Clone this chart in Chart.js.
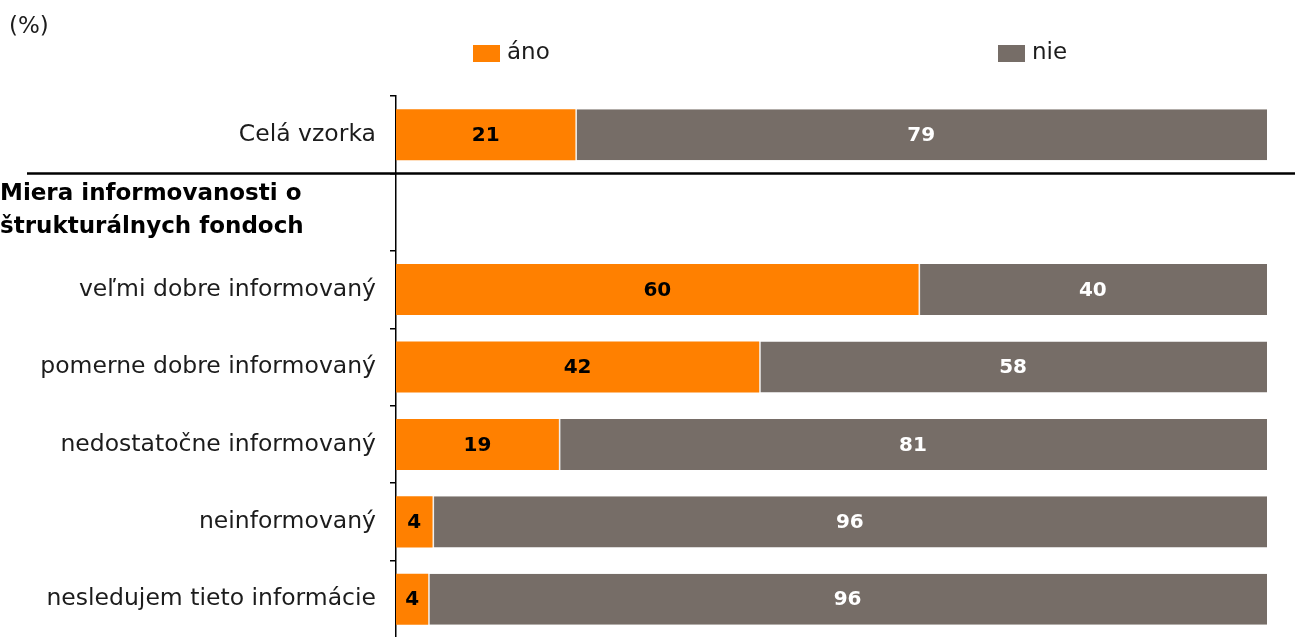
<!DOCTYPE html>
<html>
<head>
<meta charset="utf-8">
<script src="https://cdn.jsdelivr.net/npm/chart.js@4.4.1/dist/chart.umd.min.js"></script>
<style>
  html, body { margin: 0; padding: 0; background: #fff; overflow: hidden; }
  #wrap { width: 1295px; height: 640px; position: relative; }
</style>
</head>
<body>
<div id="wrap"><canvas id="c" width="1295" height="640"></canvas></div>
<script>
// ---- data ----
const categories = ['Celá vzorka', '', 'veľmi dobre informovaný', 'pomerne dobre informovaný', 'nedostatočne informovaný', 'neinformovaný', 'nesledujem tieto informácie'];
const groupHeaderIndex = 1;
const groupHeader = ['Miera informovanosti o', 'štrukturálnych fondoch'];
const seriesNames = ['áno', 'nie'];
const anoValues = [20.6, null, 60.0, 41.7, 18.7, 4.2, 3.7];
const nieValues = [79.4, null, 40.0, 58.3, 81.3, 95.8, 96.3];
const unitLabel = '(%)';

const COLORS = ['#FF8000', '#766D67'];
const LABEL_COLORS = ['#000000', '#FFFFFF'];
const FONT = 'DejaVu Sans';
const TEXT = '#1c1c1c';

const overlay = {
  id: 'overlay',
  afterDraw(chart) {
    const ctx = chart.ctx;
    const y = chart.scales.y;
    ctx.save();
    // unit label
    ctx.fillStyle = TEXT;
    ctx.font = '23px "' + FONT + '"';
    ctx.textAlign = 'left';
    ctx.textBaseline = 'middle';
    ctx.fillText(unitLabel, 9, 27);
    // legend
    const legendPos = [{bx: 473, tx: 507}, {bx: 998, tx: 1032}];
    chart.data.datasets.forEach((ds, i) => {
      ctx.fillStyle = ds.backgroundColor;
      ctx.fillRect(legendPos[i].bx, 45, 27, 17);
      ctx.fillStyle = TEXT;
      ctx.fillText(ds.label, legendPos[i].tx, 53);
    });
    // group header
    const hy = y.getPixelForValue(groupHeaderIndex);
    ctx.font = 'bold 23px "' + FONT + '"';
    ctx.fillStyle = '#000';
    ctx.fillText(groupHeader[0], 0, hy - 18);
    ctx.fillText(groupHeader[1], 0, hy + 15);
    // separator line
    const sy = (y.getPixelForValue(0) + y.getPixelForValue(1)) / 2;
    ctx.strokeStyle = '#000';
    ctx.lineWidth = 2.5;
    ctx.beginPath();
    ctx.moveTo(27, sy);
    ctx.lineTo(chart.width, sy);
    ctx.stroke();
    // data labels
    ctx.font = 'bold 20px "' + FONT + '"';
    ctx.textAlign = 'center';
    chart.data.datasets.forEach((ds, i) => {
      const meta = chart.getDatasetMeta(i);
      meta.data.forEach((el, j) => {
        const v = ds.data[j];
        if (v === null || v === undefined) return;
        ctx.fillStyle = LABEL_COLORS[i];
        ctx.fillText(String(Math.round(v)), (el.x + el.base) / 2, el.y + 1);
      });
    });
    ctx.restore();
  }
};

new Chart(document.getElementById('c'), {
  type: 'bar',
  data: {
    labels: categories,
    datasets: [
      { label: seriesNames[0], data: anoValues, backgroundColor: COLORS[0], borderWidth: 0 },
      { label: seriesNames[1], data: nieValues, backgroundColor: COLORS[1],
        borderColor: '#EEEEEE', borderWidth: {left: 1.5, right: 0, top: 0, bottom: 0}, borderSkipped: false }
    ]
  },
  options: {
    indexAxis: 'y',
    responsive: false,
    animation: false,
    events: [],
    layout: { padding: { top: 96, bottom: 2, left: 0, right: 28 } },
    datasets: { bar: { categoryPercentage: 1, barPercentage: 0.66 } },
    plugins: { legend: { display: false }, tooltip: { enabled: false }, title: { display: false } },
    scales: {
      x: { stacked: true, min: 0, max: 100, display: false },
      y: {
        stacked: true,
        afterFit(scale) { scale.width = 396; scale.paddingTop = 0; scale.paddingBottom = 0; },
        border: { display: true, color: '#000', width: 1.5 },
        grid: { drawOnChartArea: false, drawTicks: true, tickLength: 6, color: '#000', lineWidth: 1.5, offset: true },
        ticks: { color: TEXT, padding: 14, font: { family: FONT, size: 23.5 } }
      }
    }
  },
  plugins: [overlay]
});
</script>
</body>
</html>
